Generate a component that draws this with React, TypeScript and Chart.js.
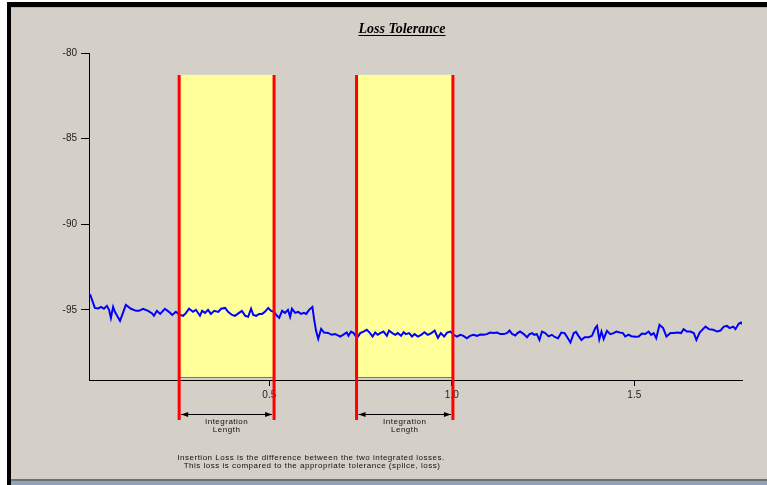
import React, { useEffect, useRef } from 'react';
import { Chart, registerables } from 'chart.js';

Chart.register(...registerables);

// Trace: distance (x) and loss (y)
const traceX = [
  0.009, 0.022, 0.031, 0.039, 0.047, 0.055, 0.061, 0.066, 0.072, 0.077,
  0.091, 0.107, 0.121, 0.135, 0.143, 0.154, 0.168, 0.179, 0.184, 0.192,
  0.201, 0.214, 0.225, 0.234, 0.244, 0.255, 0.264, 0.272, 0.280, 0.291,
  0.299, 0.310, 0.316, 0.324, 0.332, 0.340, 0.349, 0.360, 0.368, 0.379,
  0.387, 0.398, 0.406, 0.417, 0.425, 0.434, 0.442, 0.450, 0.456, 0.464,
  0.472, 0.480, 0.488, 0.497, 0.505, 0.513, 0.521, 0.527, 0.535, 0.543,
  0.551, 0.557, 0.562, 0.571, 0.579, 0.587, 0.595, 0.601, 0.609, 0.618,
  0.623, 0.628, 0.634, 0.642, 0.650, 0.661, 0.671, 0.680, 0.694, 0.702,
  0.712, 0.717, 0.724, 0.731, 0.735, 0.743, 0.749, 0.758, 0.767, 0.776,
  0.783, 0.790, 0.797, 0.804, 0.813, 0.822, 0.828, 0.837, 0.845, 0.852,
  0.861, 0.868, 0.874, 0.883, 0.891, 0.898, 0.907, 0.916, 0.925, 0.934,
  0.944, 0.953, 0.962, 0.970, 0.979, 0.987, 0.996, 1.005, 1.014, 1.023,
  1.032, 1.041, 1.050, 1.059, 1.069, 1.078, 1.087, 1.096, 1.105, 1.114,
  1.124, 1.133, 1.142, 1.151, 1.158, 1.165, 1.174, 1.180, 1.187, 1.197,
  1.206, 1.213, 1.220, 1.226, 1.233, 1.240, 1.247, 1.256, 1.265, 1.274,
  1.283, 1.291, 1.300, 1.309, 1.318, 1.325, 1.334, 1.340, 1.347, 1.355,
  1.364, 1.375, 1.384, 1.393, 1.398, 1.404, 1.410, 1.416, 1.425, 1.434,
  1.443, 1.451, 1.460, 1.469, 1.475, 1.484, 1.492, 1.503, 1.512, 1.521,
  1.530, 1.539, 1.546, 1.553, 1.560, 1.569, 1.579, 1.588, 1.599, 1.608,
  1.619, 1.628, 1.635, 1.644, 1.653, 1.663, 1.670, 1.679, 1.688, 1.695,
  1.704, 1.716, 1.727, 1.736, 1.745, 1.754, 1.761, 1.771, 1.777, 1.786,
  1.792, 1.795,
];

const traceY = [
  -94.09, -94.89, -94.92, -94.83, -94.94, -94.77, -95.00, -95.47, -94.83, -95.12,
  -95.65, -94.71, -94.94, -95.06, -95.06, -94.94, -95.06, -95.21, -95.35, -95.06,
  -95.24, -94.94, -95.12, -95.30, -95.12, -95.30, -95.35, -95.18, -94.94, -95.12,
  -95.00, -95.35, -95.06, -95.18, -95.00, -95.24, -95.06, -95.12, -94.94, -94.89,
  -95.12, -95.30, -95.35, -95.18, -95.06, -95.35, -95.41, -94.94, -95.30, -95.35,
  -95.24, -95.24, -95.12, -94.89, -95.06, -95.12, -95.35, -95.47, -95.06, -95.18,
  -95.00, -95.41, -94.94, -95.18, -95.12, -95.24, -95.18, -95.24, -95.00, -94.83,
  -95.59, -96.23, -96.70, -96.11, -96.33, -96.35, -96.46, -96.41, -96.56, -96.46,
  -96.32, -96.52, -96.27, -96.36, -96.50, -96.56, -96.36, -96.27, -96.17, -96.36,
  -96.56, -96.33, -96.46, -96.36, -96.27, -96.52, -96.21, -96.36, -96.46, -96.36,
  -96.52, -96.31, -96.42, -96.36, -96.56, -96.42, -96.56, -96.46, -96.31, -96.46,
  -96.36, -96.21, -96.64, -96.36, -96.56, -96.33, -96.27, -96.46, -96.56, -96.46,
  -96.52, -96.66, -96.52, -96.46, -96.52, -96.45, -96.46, -96.42, -96.33, -96.36,
  -96.33, -96.42, -96.42, -96.36, -96.21, -96.41, -96.50, -96.36, -96.27, -96.42,
  -96.60, -96.42, -96.36, -96.46, -96.42, -96.76, -96.27, -96.36, -96.55, -96.46,
  -96.60, -96.66, -96.33, -96.36, -96.66, -96.91, -96.36, -96.29, -96.52, -96.76,
  -96.60, -96.60, -96.52, -96.07, -95.94, -96.73, -96.27, -96.70, -96.23, -96.42,
  -96.36, -96.27, -96.33, -96.36, -96.56, -96.45, -96.54, -96.58, -96.56, -96.39,
  -96.41, -96.27, -96.46, -96.36, -96.66, -95.88, -96.07, -96.56, -96.36, -96.36,
  -96.33, -96.36, -96.13, -96.27, -96.27, -96.36, -96.76, -96.33, -96.13, -95.98,
  -96.13, -96.17, -96.27, -96.21, -95.98, -95.94, -96.07, -95.98, -96.13, -95.82,
  -95.75, -95.84,
];

// Integration windows
const windowStarts = [0.253, 0.739];
const windowEnds = [0.513, 1.003];
const windowTop = -81.28;
const windowBottom = -98.92;

// Axes
const xTicks = [0.5, 1.0, 1.5];
const yTicks = [-95, -90, -85, -80];
const xMin = 0.006;
const xMax = 1.795;
const yMin = -99.1;
const yMax = -80;

// Texts
const titleText = 'Loss Tolerance';
const windowLabel = ['Integration', 'Length'];
const noteLines = [
  'Insertion Loss is the difference between the two integrated losses.',
  'This loss is compared to the appropriate tolerance (splice, loss)',
];

const annotations = {
  id: 'annotations',
  beforeDatasetsDraw(chart: any) {
    const { ctx, scales } = chart;
    const x = scales.x;
    const y = scales.y;
    ctx.save();
    for (let i = 0; i < windowStarts.length; i++) {
      const l = x.getPixelForValue(windowStarts[i]);
      const r = x.getPixelForValue(windowEnds[i]);
      const t = y.getPixelForValue(windowTop);
      const b = y.getPixelForValue(windowBottom);
      ctx.fillStyle = '#ffff99';
      ctx.fillRect(l, t, r - l, b - t);
      ctx.fillStyle = '#7a7a60';
      ctx.fillRect(l, Math.round(b), r - l, 1);
    }
    ctx.restore();
  },
  afterDatasetsDraw(chart: any) {
    const { ctx, scales, chartArea } = chart;
    const x = scales.x;
    const y = scales.y;
    ctx.save();
    const t = y.getPixelForValue(windowTop);
    const redBottom = chartArea.bottom + 40;
    const arrowY = chartArea.bottom + 34.5;
    for (let i = 0; i < windowStarts.length; i++) {
      const l = x.getPixelForValue(windowStarts[i]);
      const r = x.getPixelForValue(windowEnds[i]);
      // red boundaries
      ctx.strokeStyle = '#ff0000';
      ctx.lineWidth = 3;
      ctx.beginPath();
      ctx.moveTo(l, t);
      ctx.lineTo(l, redBottom);
      ctx.moveTo(r, t);
      ctx.lineTo(r, redBottom);
      ctx.stroke();
      // double arrow
      const a0 = l + 2;
      const a1 = r - 2;
      ctx.strokeStyle = '#000';
      ctx.fillStyle = '#000';
      ctx.lineWidth = 1;
      ctx.beginPath();
      ctx.moveTo(a0, arrowY);
      ctx.lineTo(a1, arrowY);
      ctx.stroke();
      ctx.beginPath();
      ctx.moveTo(a0, arrowY);
      ctx.lineTo(a0 + 7, arrowY - 2.5);
      ctx.lineTo(a0 + 7, arrowY + 2.5);
      ctx.closePath();
      ctx.fill();
      ctx.beginPath();
      ctx.moveTo(a1, arrowY);
      ctx.lineTo(a1 - 7, arrowY - 2.5);
      ctx.lineTo(a1 - 7, arrowY + 2.5);
      ctx.closePath();
      ctx.fill();
      // labels
      ctx.font = '8px "Liberation Sans", Arial, sans-serif';
      (ctx as any).letterSpacing = '0.5px';
      ctx.textAlign = 'center';
      ctx.textBaseline = 'middle';
      ctx.fillStyle = '#111';
      const cx = (l + r) / 2;
      ctx.fillText(windowLabel[0], cx, arrowY + 7);
      ctx.fillText(windowLabel[1], cx, arrowY + 15);
    }
    // note
    ctx.font = '8px "Liberation Sans", Arial, sans-serif';
    (ctx as any).letterSpacing = '0.5px';
    ctx.textAlign = 'center';
    ctx.textBaseline = 'middle';
    ctx.fillStyle = '#111';
    ctx.fillText(noteLines[0], 311, 457.5);
    ctx.fillText(noteLines[1], 312, 465.5);
    // title
    (ctx as any).letterSpacing = '0px';
    ctx.font = 'italic bold 14px "Liberation Serif", "Times New Roman", serif';
    ctx.textAlign = 'center';
    ctx.textBaseline = 'alphabetic';
    ctx.fillStyle = '#000';
    const w = ctx.measureText(titleText).width;
    ctx.fillText(titleText, 402, 33);
    ctx.fillRect(402 - w / 2, 35, w, 1);
    ctx.restore();
  },
};

export default function App() {
  const ref = useRef<HTMLCanvasElement | null>(null);

  useEffect(() => {
    if (!ref.current) return;
    const tickFont = { family: '"Liberation Sans", Arial, sans-serif', size: 10 };
    const chart = new Chart(ref.current, {
      type: 'line',
      data: {
        datasets: [
          {
            data: traceX.map((v, i) => ({ x: v, y: traceY[i] })),
            borderColor: '#0000ff',
            borderWidth: 2,
            pointRadius: 0,
            tension: 0,
            fill: false,
          },
        ],
      },
      options: {
        animation: false,
        responsive: false,
        devicePixelRatio: 1,
        layout: { padding: { left: 0, top: 53, right: 25, bottom: 75 } },
        plugins: {
          legend: { display: false },
          tooltip: { enabled: false },
          title: { display: false },
        },
        scales: {
          x: {
            type: 'linear',
            min: xMin,
            max: xMax,
            bounds: 'data',
            afterBuildTicks: (axis: any) => {
              axis.ticks = xTicks.map((v) => ({ value: v }));
            },
            afterFit: (axis: any) => {
              axis.height = 30;
            },
            grid: {
              drawOnChartArea: false,
              drawTicks: true,
              tickLength: 6,
              color: '#000',
            },
            border: { display: true, color: '#000', width: 1 },
            ticks: {
              autoSkip: false,
              maxRotation: 0,
              padding: 3,
              color: '#222',
              font: tickFont,
              callback: (v: any) => Number(v).toFixed(1),
            },
          },
          y: {
            type: 'linear',
            min: yMin,
            max: yMax,
            bounds: 'data',
            afterBuildTicks: (axis: any) => {
              axis.ticks = yTicks.map((v) => ({ value: v }));
            },
            afterFit: (axis: any) => {
              axis.width = 89;
            },
            grid: {
              drawOnChartArea: false,
              drawTicks: true,
              tickLength: 8,
              color: '#000',
            },
            border: { display: true, color: '#000', width: 1 },
            ticks: {
              autoSkip: false,
              padding: 4,
              color: '#222',
              font: tickFont,
              callback: (v: any) => String(v),
            },
          },
        },
      },
      plugins: [annotations],
    } as any);
    return () => chart.destroy();
  }, []);

  return (
    <div
      style={{
        position: 'absolute',
        left: 0,
        top: 0,
        width: 767,
        height: 485,
        background: '#ffffff',
        overflow: 'hidden',
      }}
    >
      <div style={{ position: 'absolute', left: 7, top: 2, width: 4, height: 483, background: '#000' }} />
      <div style={{ position: 'absolute', left: 7, top: 2, width: 760, height: 5, background: '#000' }} />
      <div style={{ position: 'absolute', left: 11, top: 7, width: 756, height: 1, background: '#a8b8c8' }} />
      <div style={{ position: 'absolute', left: 11, top: 8, width: 756, height: 471, background: '#d4d0c8' }} />
      <div style={{ position: 'absolute', left: 11, top: 479, width: 756, height: 2, background: '#707070' }} />
      <div style={{ position: 'absolute', left: 11, top: 481, width: 756, height: 4, background: '#8ea3b8' }} />
      <canvas
        ref={ref}
        width={767}
        height={485}
        style={{ position: 'absolute', left: 0, top: 0, width: 767, height: 485 }}
      />
    </div>
  );
}
